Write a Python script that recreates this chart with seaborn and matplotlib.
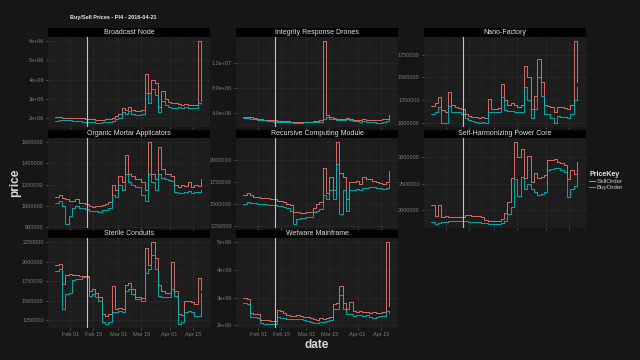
import pandas as pd
import matplotlib
matplotlib.use("Agg")
import matplotlib.pyplot as plt
import matplotlib.dates as mdates
from matplotlib.patches import Rectangle
from matplotlib.lines import Line2D
from matplotlib.ticker import FixedLocator, AutoMinorLocator
import seaborn as sns

# sampled every 2 days, prices in millions of ISK
dates = pd.date_range("2016-01-23", "2016-04-21", freq="2D")
marker_date = pd.Timestamp("2016-02-11")

items = ["Broadcast Node", "Integrity Response Drones", "Nano-Factory",
         "Organic Mortar Applicators", "Recursive Computing Module",
         "Self-Harmonizing Power Core", "Sterile Conduits", "Wetware Mainframe"]

broadcast_sell = [2.05, 2.05, 2.0, 2.0, 2.0, 2.0, 2.0, 1.98, 1.98, 1.95,
                  1.95, 1.95, 1.9, 1.9, 1.9, 1.95, 1.95, 2.0, 2.1, 2.2,
                  2.5, 2.4, 2.6, 2.4, 2.35, 2.35, 2.4, 4.3, 3.3, 4.0,
                  3.8, 2.6, 3.4, 3.0, 2.85, 2.8, 2.8, 2.75, 2.7, 2.75,
                  2.7, 2.7, 2.7, 6.0, 2.9]
broadcast_buy = [1.85, 1.9, 1.9, 1.88, 1.88, 1.85, 1.85, 1.85, 1.82, 1.82,
                 1.8, 1.8, 1.75, 1.75, 1.78, 1.8, 1.8, 1.85, 1.95, 2.0,
                 2.3, 2.2, 2.35, 2.2, 2.15, 2.15, 2.2, 3.3, 2.8, 3.5,
                 3.2, 2.3, 2.9, 2.7, 2.6, 2.55, 2.5, 2.6, 2.55, 2.6,
                 2.5, 2.5, 2.55, 2.8, 2.75]

drones_sell = [3.4, 3.3, 3.3, 3.2, 3.1, 3.0, 2.9, 2.9, 2.8, 2.8,
               2.75, 2.7, 2.7, 2.65, 2.6, 2.6, 2.6, 2.6, 2.6, 2.6,
               2.6, 2.7, 2.7, 2.8, 15.5, 3.6, 3.4, 3.2, 3.1, 3.0,
               3.1, 3.2, 3.0, 2.9, 2.9, 2.9, 3.0, 2.9, 2.9, 2.8,
               2.9, 2.9, 3.0, 3.1, 3.6]
drones_buy = [3.2, 3.2, 3.1, 3.0, 2.9, 2.8, 2.8, 2.7, 2.7, 2.6,
              2.6, 2.55, 2.5, 2.5, 2.5, 2.45, 2.45, 2.45, 2.5, 2.5,
              2.5, 2.55, 2.6, 2.6, 3.0, 3.3, 3.1, 3.0, 2.9, 2.85,
              2.9, 3.0, 2.85, 2.7, 2.7, 2.6, 2.7, 2.6, 2.5, 2.5,
              2.45, 2.4, 2.5, 2.7, 3.2]

nano_sell = [1.19, 1.22, 1.28, 1.14, 1.12, 1.34, 1.2, 1.17, 1.16, 1.15,
             1.1, 1.08, 1.07, 1.06, 1.05, 1.06, 1.05, 1.26, 1.15, 1.15,
             1.16, 1.43, 1.25, 1.2, 1.22, 1.2, 1.18, 1.2, 1.63, 1.5,
             1.15, 1.3, 1.7, 1.45, 1.2, 1.19, 1.18, 1.12, 1.18, 1.17,
             1.16, 1.15, 1.2, 1.9, 1.45]
nano_buy = [1.1, 1.12, 1.18, 1.0, 1.0, 1.19, 1.12, 1.12, 1.12, 1.1,
            1.05, 1.03, 1.02, 1.01, 1.0, 1.01, 1.0, 1.12, 1.12, 1.12,
            1.12, 1.28, 1.14, 1.13, 1.13, 1.12, 1.12, 1.12, 1.39, 1.25,
            1.05, 1.15, 1.5, 1.3, 1.1, 1.1, 1.05, 1.0, 1.08, 1.07,
            1.06, 1.05, 1.1, 1.25, 1.4]

mortar_sell = [1.08, 1.1, 1.07, 1.06, 1.05, 1.05, 1.06, 1.03, 1.03, 1.02,
               1.0, 0.99, 1.0, 1.0, 1.01, 1.02, 1.04, 1.2, 1.15, 1.28,
               1.22, 1.48, 1.3, 1.28, 1.25, 1.25, 1.22, 1.15, 1.6, 1.3,
               1.25, 1.55, 1.35, 1.3, 1.3, 1.28, 1.2, 1.18, 1.2, 1.19,
               1.22, 1.18, 1.2, 1.19, 1.25]
mortar_buy = [1.03, 1.05, 1.0, 0.83, 0.9, 0.98, 1.0, 0.98, 0.98, 0.97,
              0.95, 0.95, 0.95, 0.94, 0.96, 0.96, 0.98, 1.1, 1.08, 1.2,
              1.15, 1.3, 1.22, 1.2, 1.18, 1.18, 1.1, 1.05, 1.3, 1.22,
              1.15, 1.3, 1.26, 1.25, 1.24, 1.23, 1.13, 1.12, 1.12, 1.13,
              1.14, 1.12, 1.13, 1.13, 1.15]

recursive_sell = [1.6, 1.62, 1.6, 1.58, 1.58, 1.57, 1.57, 1.56, 1.55, 1.55,
                  1.53, 1.53, 1.52, 1.5, 1.48, 1.41, 1.4, 1.39, 1.39, 1.4,
                  1.4, 1.45, 1.5, 1.52, 1.9, 1.62, 1.8, 1.65, 2.2, 1.85,
                  1.8, 1.55, 1.75, 1.75, 1.76, 1.72, 1.8, 1.78, 1.78, 1.76,
                  1.75, 1.74, 1.72, 1.75, 1.87]
recursive_buy = [1.5, 1.52, 1.51, 1.51, 1.5, 1.5, 1.5, 1.49, 1.49, 1.48,
                 1.47, 1.47, 1.46, 1.45, 1.42, 1.27, 1.33, 1.34, 1.34, 1.35,
                 1.35, 1.4, 1.42, 1.44, 1.6, 1.55, 1.65, 1.55, 1.95, 1.38,
                 1.65, 1.42, 1.65, 1.66, 1.67, 1.66, 1.68, 1.68, 1.69, 1.69,
                 1.68, 1.68, 1.67, 1.68, 1.72]

core_sell = [2.1, 1.9, 2.1, 1.88, 1.9, 1.88, 1.88, 1.87, 1.87, 1.88,
             1.91, 1.91, 1.9, 1.9, 1.9, 1.88, 1.82, 1.81, 1.81, 1.81,
             1.81, 1.85, 1.95, 2.15, 2.6, 3.27, 3.0, 3.14, 2.6, 3.02,
             2.52, 2.7, 2.6, 2.62, 2.65, 2.93, 2.93, 2.95, 2.9, 2.88,
             2.85, 2.59, 2.75, 2.68, 2.9]
core_buy = [1.78, 1.75, 1.77, 1.78, 1.79, 1.8, 1.8, 1.8, 1.81, 1.81,
            1.8, 1.79, 1.78, 1.78, 1.78, 1.77, 1.76, 1.75, 1.75, 1.75,
            1.75, 1.76, 1.8, 1.94, 2.06, 2.58, 2.27, 2.62, 2.4, 2.5,
            2.4, 2.35, 2.28, 2.3, 2.35, 2.75, 2.77, 2.78, 2.78, 2.75,
            2.72, 2.25, 2.4, 2.45, 2.7]

sterile_sell = [1.96, 1.97, 1.71, 1.83, 1.84, 1.83, 1.83, 1.82, 1.82, 1.81,
                1.62, 1.65, 1.6, 1.55, 1.33, 1.3, 1.33, 1.69, 1.39, 1.4,
                1.39, 1.7, 1.72, 1.65, 1.54, 1.55, 1.53, 2.17, 1.95, 2.25,
                2.05, 1.7, 1.62, 1.6, 1.6, 2.0, 1.62, 1.33, 1.32, 1.5,
                1.5, 1.48, 1.45, 1.79, 1.64]
sterile_buy = [1.88, 1.9, 1.39, 1.58, 1.6, 1.76, 1.78, 1.78, 1.8, 1.8,
               1.56, 1.58, 1.55, 1.5, 1.22, 1.2, 1.23, 1.35, 1.35, 1.36,
               1.35, 1.62, 1.65, 1.58, 1.52, 1.52, 1.5, 1.85, 1.9, 2.08,
               1.9, 1.56, 1.55, 1.54, 1.55, 1.65, 1.56, 1.2, 1.22, 1.35,
               1.36, 1.35, 1.3, 1.3, 1.6]

wetware_sell = [3.0, 2.95, 2.45, 2.42, 2.4, 2.2, 2.18, 2.18, 2.15, 2.17,
                2.55, 2.5, 2.45, 2.38, 2.35, 2.35, 2.36, 2.35, 2.3, 2.3,
                2.25, 2.22, 2.2, 2.25, 2.24, 2.26, 2.3, 2.75, 2.8, 3.43,
                2.8, 2.6, 2.85, 2.5, 2.48, 2.5, 2.48, 2.48, 2.46, 2.47,
                2.45, 2.46, 2.48, 5.0, 2.7]
wetware_buy = [2.8, 2.75, 2.3, 2.3, 2.28, 2.08, 2.06, 2.06, 2.05, 2.06,
               2.3, 2.28, 2.25, 2.22, 2.22, 2.23, 2.24, 2.22, 2.18, 2.16,
               2.12, 2.1, 2.1, 2.12, 2.12, 2.14, 2.18, 2.6, 2.6, 3.1,
               2.6, 2.4, 2.4, 2.35, 2.36, 2.36, 2.35, 2.36, 2.3, 2.28,
               2.3, 2.32, 2.35, 2.5, 2.45]

sell_series = [broadcast_sell, drones_sell, nano_sell, mortar_sell,
               recursive_sell, core_sell, sterile_sell, wetware_sell]
buy_series = [broadcast_buy, drones_buy, nano_buy, mortar_buy,
              recursive_buy, core_buy, sterile_buy, wetware_buy]

y_ticks = [
    [2e6, 3e6, 4e6, 5e6, 6e6],
    [4e6, 8e6, 1.2e7],
    [1000000, 1250000, 1500000, 1750000],
    [800000, 1000000, 1200000, 1400000, 1600000],
    [1250000, 1500000, 1750000, 2000000],
    [2000000, 2500000, 3000000],
    [1250000, 1500000, 1750000, 2000000, 2250000],
    [2e6, 3e6, 4e6, 5e6],
]
y_labels = [
    ["2e+06", "3e+06", "4e+06", "5e+06", "6e+06"],
    ["4.0e+06", "8.0e+06", "1.2e+07"],
    ["1000000", "1250000", "1500000", "1750000"],
    ["800000", "1000000", "1200000", "1400000", "1600000"],
    ["1250000", "1500000", "1750000", "2000000"],
    ["2000000", "2500000", "3000000"],
    ["1250000", "1500000", "1750000", "2000000", "2250000"],
    ["2e+06", "3e+06", "4e+06", "5e+06"],
]
x_tick_dates = pd.to_datetime(["2016-02-01", "2016-02-15", "2016-03-01",
                               "2016-03-15", "2016-04-01", "2016-04-15"])

# long format table
rows = []
for item, sell, buy in zip(items, sell_series, buy_series):
    for d, s, b in zip(dates, sell, buy):
        rows.append((item, d, "SellOrder", s * 1e6))
        rows.append((item, d, "BuyOrder", b * 1e6))
df = pd.DataFrame(rows, columns=["item", "date", "PriceKey", "price"])

bg = "#161616"
panel_bg = "#1d1d1d"
tick_col = "#7c7c7c"
palette = {"SellOrder": "#F8766D", "BuyOrder": "#00BFC4"}

plt.rcParams["font.family"] = ["Liberation Sans", "DejaVu Sans"]

fig = plt.figure(figsize=(6.4, 3.6), dpi=100, facecolor=bg)
W, H = 640, 360
col_left = [48, 236, 424]
row_top = [37, 138, 238]
pw, ph = 162, 90

minor_x = [x_tick_dates[i] + (x_tick_dates[i + 1] - x_tick_dates[i]) / 2
           for i in range(len(x_tick_dates) - 1)]

for k, item in enumerate(items):
    r, c = divmod(k, 3)
    ax = fig.add_axes([col_left[c] / W, 1 - (row_top[r] + ph) / H, pw / W, ph / H])
    ax.set_facecolor(panel_bg)
    sub = df[df["item"] == item]
    sns.lineplot(data=sub, x="date", y="price", hue="PriceKey",
                 hue_order=["SellOrder", "BuyOrder"], palette=palette,
                 estimator=None, drawstyle="steps-post", linewidth=0.6,
                 legend=False, ax=ax)
    ax.axvline(marker_date, color="#c4c4c4", linewidth=0.8)
    ax.set_xlim(pd.Timestamp("2016-01-18 12:00"), pd.Timestamp("2016-04-25 12:00"))
    ax.margins(y=0.05)
    ax.set_xlabel("")
    ax.set_ylabel("")

    ax.yaxis.set_major_locator(FixedLocator(y_ticks[k]))
    ax.set_yticklabels(y_labels[k])
    ax.yaxis.set_minor_locator(AutoMinorLocator(2))
    ax.set_xticks(x_tick_dates)
    ax.set_xticks(minor_x, minor=True)
    ax.xaxis.set_major_formatter(mdates.DateFormatter("%b %d"))
    ax.tick_params(axis="both", which="major", labelsize=4, colors=tick_col,
                   length=1.5, width=0.4, pad=1.5)
    ax.tick_params(axis="both", which="minor", length=0)
    if k not in (6, 7):
        ax.tick_params(axis="x", labelbottom=False)

    ax.grid(True, which="major", color="#2b2b2b", linewidth=0.45)
    ax.grid(True, which="minor", color="#232323", linewidth=0.3)
    ax.set_axisbelow(True)
    for sp in ax.spines.values():
        sp.set_visible(False)

    # facet strip
    sh = 8.5 / ph
    ax.add_patch(Rectangle((0, 1), 1, sh, transform=ax.transAxes,
                           facecolor="black", edgecolor="none", clip_on=False))
    ax.text(0.5, 1 + sh / 2, item, transform=ax.transAxes, ha="center",
            va="center", fontsize=5, color="#e6e6e6")

fig.text(70 / W, 1 - 18 / H, "Buy/Sell Prices - PI4 - 2016-04-21",
         fontsize=4, fontweight="bold", color="#e6e6e6", va="center")
fig.text(317 / W, 1 - 345 / H, "date", fontsize=8.5, fontweight="bold",
         color="#d8d8d8", ha="center", va="center")
fig.text(15 / W, 1 - 183 / H, "price", fontsize=8.5, fontweight="bold",
         color="#d8d8d8", ha="center", va="center", rotation=90)

handles = [Line2D([], [], color=palette[k], linewidth=0.7) for k in ["SellOrder", "BuyOrder"]]
leg = fig.legend(handles, ["SellOrder", "BuyOrder"], loc="upper left",
                 bbox_to_anchor=(589 / W, 1 - 171 / H), frameon=False,
                 fontsize=4.5, labelcolor="#c8c8c8", title="PriceKey",
                 title_fontproperties={"weight": "bold", "size": 5},
                 handlelength=0.9, handletextpad=0.3, labelspacing=0.1,
                 borderaxespad=0, borderpad=0, alignment="left")
leg.get_title().set_color("#e6e6e6")

fig.savefig("out.png", dpi=100, facecolor=bg)
